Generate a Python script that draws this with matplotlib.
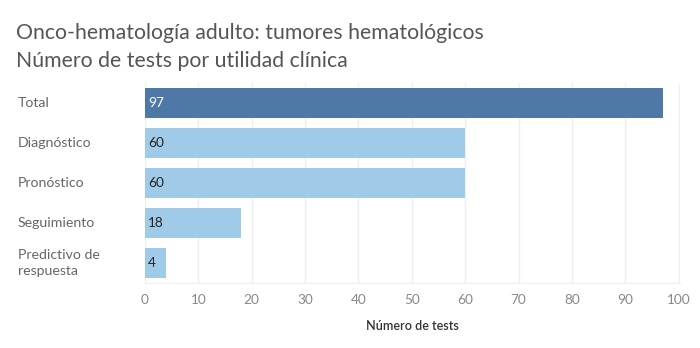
import matplotlib.pyplot as plt
import matplotlib.transforms as mtransforms

categories = ["Total", "Diagnóstico", "Pronóstico", "Seguimiento", "Predictivo de\nrespuesta"]
values = [97, 60, 60, 18, 4]
xticks = [0, 10, 20, 30, 40, 50, 60, 70, 80, 90, 100]

dark = "#4e79a7"
light = "#a0cbe8"
colors = [dark] + [light] * 4

plt.rcParams["font.family"] = ["Lato", "DejaVu Sans"]

fig = plt.figure(figsize=(7, 3.48), dpi=100)
ax = fig.add_axes([145 / 700, 1 - 283 / 348, 535 / 700, 200 / 348])

y = list(range(len(categories)))
ax.barh(y, values, height=0.75, color=colors, zorder=2)
ax.set_ylim(len(categories) - 0.5, -0.5)
ax.set_xlim(0, 100.25)

# value labels inside the bars
for i, v in enumerate(values):
    ax.text(0.6, i, str(v), va="center", ha="left", fontsize=9.8,
            color="white" if i == 0 else "#222222", zorder=3)

# category labels, left aligned at the figure edge
trans = mtransforms.blended_transform_factory(fig.transFigure, ax.transData)
for i, c in enumerate(categories):
    ax.text(18 / 700, i, c, transform=trans, va="center", ha="left",
            fontsize=10.2, color="#666666", linespacing=1.45)

ax.set_yticks([])
ax.set_xticks(xticks)
ax.tick_params(axis="x", length=0, labelsize=9.8, labelcolor="#888888", pad=8)
ax.grid(axis="x", color="#efefef", linewidth=1, zorder=0)
for s in ax.spines.values():
    s.set_visible(False)
ax.spines["bottom"].set_visible(True)
ax.spines["bottom"].set_color("#efefef")
ax.set_xlabel("Número de tests", fontsize=9, color="#333333", labelpad=10,
              fontweight="semibold")

fig.text(16 / 700, 1 - 33 / 348, "Onco-hematología adulto: tumores hematológicos",
         fontsize=15.3, color="#555555", va="center", ha="left")
fig.text(16 / 700, 1 - 61 / 348, "Número de tests por utilidad clínica",
         fontsize=15.3, color="#555555", va="center", ha="left")

fig.savefig("out.png", dpi=100)
